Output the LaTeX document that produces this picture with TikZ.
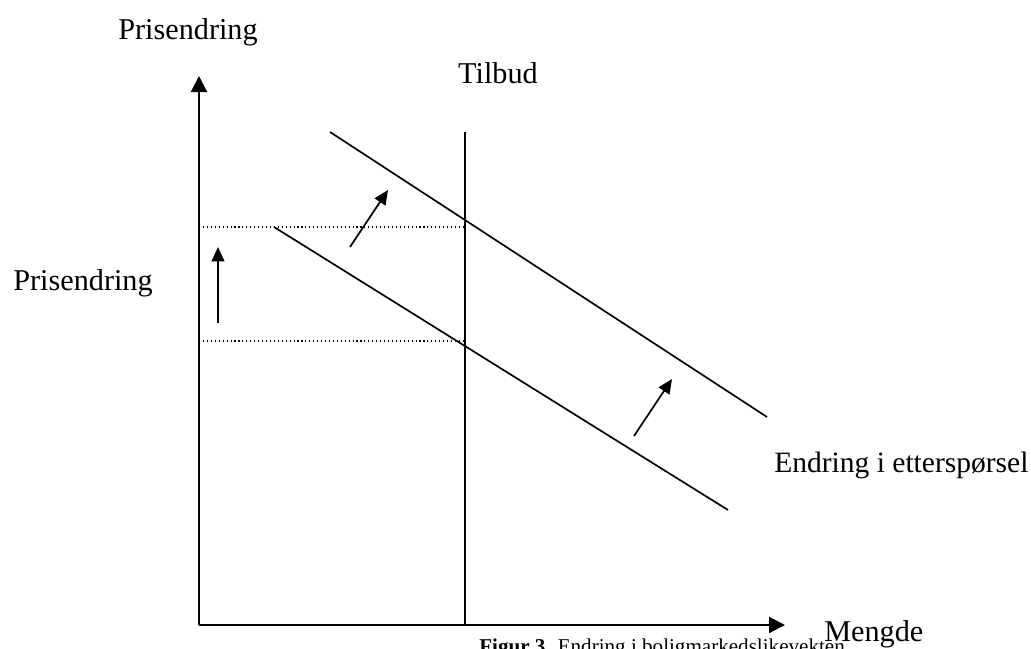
\documentclass[tikz,border=0pt]{standalone}
\usepackage{fontspec}
\setmainfont{Liberation Serif}
\usetikzlibrary{arrows.meta}
\begin{document}
\begin{tikzpicture}[x=0.025cm,y=-0.025cm,
  axis/.style={line width=1.5pt,-{Triangle[length=0.4cm,width=0.4cm]}},
  curve/.style={line width=1.2pt},
  shiftarrow/.style={line width=1.2pt,-{Triangle[length=0.36cm,width=0.32cm]}},
  level/.style={line width=0.8pt,dotted},
  lbl/.style={font=\fontsize{21.5}{26}\selectfont,inner sep=0pt}]
\useasboundingbox (0,0) rectangle (1031,649);

% axes
\coordinate (O) at (199,625);
\coordinate (ytop) at (199,76);
\coordinate (xend) at (785,625);
\draw[axis] (O) -- (ytop);
\draw[axis] (O) -- (xend);

% supply
\coordinate (S0) at (465,625);
\coordinate (S1) at (465,132);
\draw[curve] (S0) -- (S1);

% demand, before and after
\coordinate (D0a) at (274,227);
\coordinate (D0b) at (728,510);
\coordinate (D1a) at (330,132);
\coordinate (D1b) at (767,417);
\draw[curve] (D0a) -- (D0b);
\draw[curve] (D1a) -- (D1b);

% price levels
\coordinate (P1) at (199,227);
\coordinate (P1s) at (465,227);
\coordinate (P0) at (199,341);
\coordinate (P0s) at (465,341);
\draw[level] (P1) -- (P1s);
\draw[level] (P0) -- (P0s);

% shifts
\coordinate (a1) at (218,323);
\coordinate (a1t) at (218,247);
\coordinate (a2) at (350,247);
\coordinate (a2t) at (388,190);
\coordinate (a3) at (634,436);
\coordinate (a3t) at (672,379);
\draw[shiftarrow] (a1) -- (a1t);
\draw[shiftarrow] (a2) -- (a2t);
\draw[shiftarrow] (a3) -- (a3t);

% labels
\node[lbl,anchor=base] (ylab) at (188,40) {Prisendring};
\node[lbl,anchor=base] (slab) at (498,84) {Tilbud};
\node[lbl,anchor=base] (plab) at (83,290) {Prisendring};
\node[lbl,anchor=base west,font=\fontsize{21}{25}\selectfont] (dlab) at (774,472) {Endring i etterspørsel};
\node[lbl,anchor=base west] (xlab) at (824,641) {Mengde};
\node[font=\fontsize{15}{18}\selectfont,inner sep=0pt,anchor=base west] (cap) at (479,653)
  {\textbf{Figur 3}. Endring i boligmarkedslikevekten};
\end{tikzpicture}
\end{document}
